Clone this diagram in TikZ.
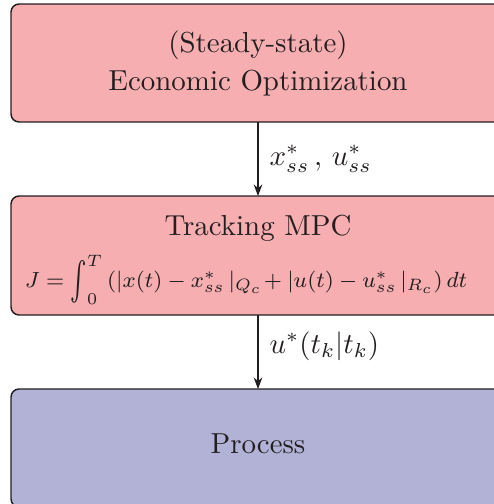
\documentclass[tikz,border=0pt]{standalone}
\usepackage{amsmath}
\usetikzlibrary{arrows.meta}
\definecolor{boxpink}{RGB}{246,174,177}
\definecolor{boxblue}{RGB}{178,178,215}
\definecolor{edge}{RGB}{35,31,32}
\newcommand{\midint}{\mathop{\vcenter{\hbox{\scalebox{1.05}[1.75]{$\textstyle\int$}}}}\nolimits}
\tikzset{
  blockbox/.style={draw=edge, line width=0.5pt, rounded corners=2.8pt},
  flow/.style={draw=edge, line width=0.4pt, -{Stealth[length=4pt,width=3pt]}},
  txt/.style={inner sep=0pt, text=edge}
}
\begin{document}
\begin{tikzpicture}[x=0.346pt,y=-0.346pt]
\useasboundingbox (0,0) rectangle (494,504);
\clip (0,0) rectangle (494,504);
% boxes
\path[blockbox, fill=boxpink] (11,4) rectangle (505,122);
\path[blockbox, fill=boxpink] (11,196) rectangle (505,315);
\path[blockbox, fill=boxblue] (11,389) rectangle (505,507);
\coordinate (econ) at (258,122);
\coordinate (mpcT) at (258,196);
\coordinate (mpcB) at (258,315);
\coordinate (proc) at (258,389);
% texts
\node[txt, anchor=base] (t1) at (258,52) {(Steady-state)};
\node[txt, anchor=base] (t2) at (258,90) {Economic Optimization};
\node[txt, anchor=base] (t3) at (258,235) {Tracking MPC};
\node[txt, anchor=base, font=\footnotesize] (t4) at (246,287) {\scalebox{0.95}{$J=\midint_0^T\,(|x(t)-x^*_{ss}\,|_{Q_c}\!+|u(t)-u^*_{ss}\,|_{R_c})\,dt$}};
\node[txt, anchor=base] (t5) at (258,453) {Process};
% connectors
\draw[flow] (econ) -- (mpcT);
\draw[flow] (mpcB) -- (proc);
\node[txt, anchor=base west] (l1) at (269,165) {$x^*_{ss}\,,\,u^*_{ss}$};
\node[txt, anchor=base west] (l2) at (269,353) {$u^*(t_k|t_k)$};
\end{tikzpicture}
\end{document}
